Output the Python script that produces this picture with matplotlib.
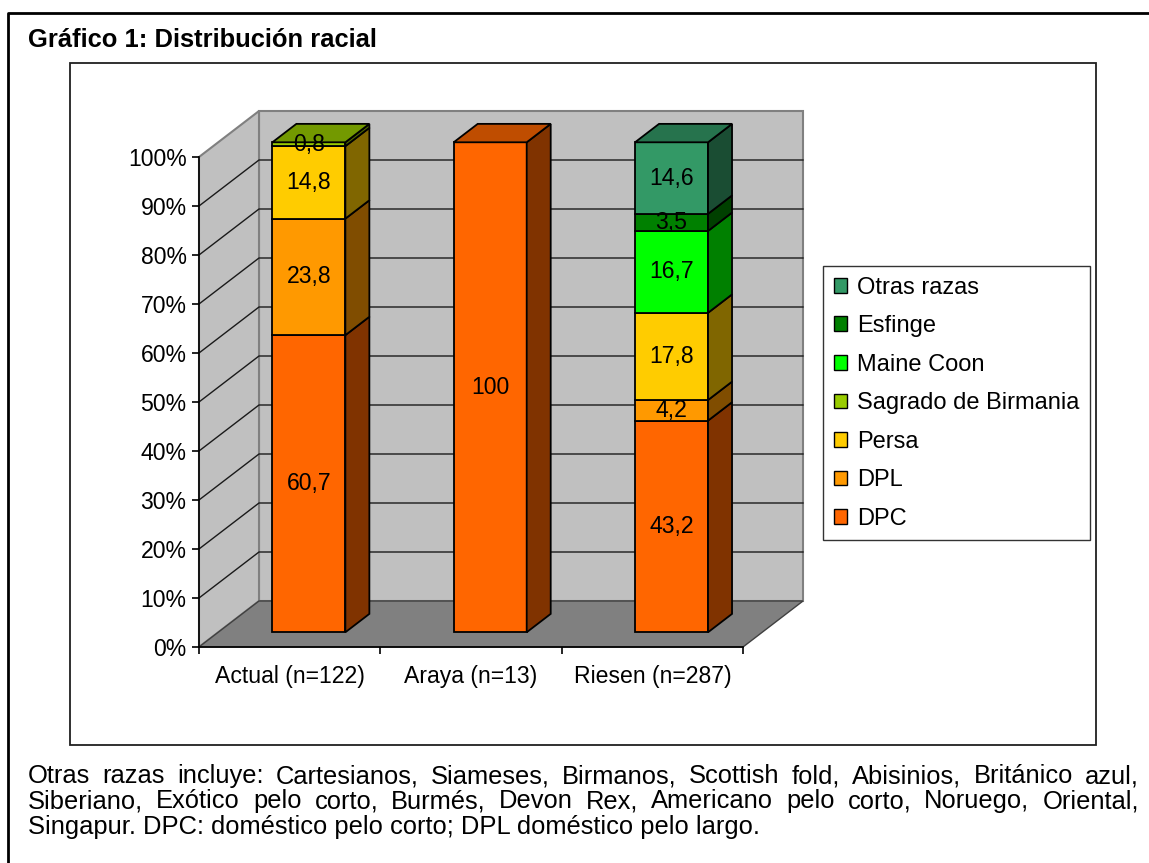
import matplotlib
matplotlib.use("Agg")
import matplotlib.pyplot as plt
from matplotlib.patches import Patch, Polygon, Rectangle
from matplotlib.lines import Line2D
from matplotlib.ticker import FixedLocator, FuncFormatter
import numpy as np

# ---------------- data ----------------
categories = ["Actual (n=122)", "Araya (n=13)", "Riesen (n=287)"]
series_names = ["DPC", "DPL", "Persa", "Sagrado de Birmania", "Maine Coon", "Esfinge", "Otras razas"]
dpc = [60.7, 100.0, 43.2]
dpl = [23.8, 0.0, 4.2]
persa = [14.8, 0.0, 17.8]
sagrado = [0.8, 0.0, 0.0]
maine_coon = [0.0, 0.0, 16.7]
esfinge = [0.0, 0.0, 3.5]
otras = [0.0, 0.0, 14.6]
series_values = [dpc, dpl, persa, sagrado, maine_coon, esfinge, otras]
series_colors = ["#FF6600", "#FF9900", "#FFCC00", "#99CC00", "#00FF00", "#008000", "#339966"]
ytick_values = list(range(0, 101, 10))

title = "Gráfico 1: Distribución racial"
footnote_lines = [
    "Otras razas incluye: Cartesianos, Siameses, Birmanos, Scottish fold, Abisinios, Británico azul,",
    "Siberiano, Exótico pelo corto, Burmés, Devon Rex, Americano pelo corto, Noruego, Oriental,",
    "Singapur. DPC: doméstico pelo corto; DPL doméstico pelo largo.",
]

# ---------------- style ----------------
FONT = "Liberation Sans"
FS = 16.6        # chart text
FS_DOC = 18.4    # title / footnote
FS_LEG = 17
plt.rcParams["font.family"] = [FONT, "DejaVu Sans"]

W, H = 1149, 863
fig = plt.figure(figsize=(W / 100, H / 100), dpi=100)
fig.patch.set_facecolor("white")

def fx(px):
    return px / W

def fy(py):
    return 1 - py / H

# outer border (top + left) and inner chart frame
fig.add_artist(Line2D([fx(8), fx(8), fx(W + 5)], [fy(H + 5), fy(13), fy(13)],
                      transform=fig.transFigure, color="black", lw=2))
fig.add_artist(Rectangle((fx(70), fy(745)), fx(1096) - fx(70), fy(63) - fy(745),
                         transform=fig.transFigure, facecolor="white",
                         edgecolor="#202020", lw=1.3, zorder=0))

fig.text(fx(28), fy(47), title, fontsize=FS_DOC, fontweight="bold", va="baseline", ha="left")

# ---------------- 3D-like chart on front plane axes ----------------
left_px, right_px, top_px, bot_px = 199, 743, 157, 647
ax = fig.add_axes([fx(left_px), fy(bot_px), fx(right_px) - fx(left_px), fy(top_px) - fy(bot_px)])
ax.set_xlim(-0.5, 2.5)
ax.set_ylim(0, 100)
ax.patch.set_visible(False)

x_per_px = 3.0 / (right_px - left_px)
y_per_px = 100.0 / (bot_px - top_px)
DX = 60 * x_per_px      # depth offset in category units
DY = 46 * y_per_px      # depth offset in percent units
fd, bd = 0.32, 0.72     # bar front / back depth fractions
bar_w = 73 * x_per_px

wall_c = "#C0C0C0"
floor_c = "#808080"
edge_c = "#808080"

# back wall
ax.add_patch(Polygon([(-0.5 + DX, DY), (2.5 + DX, DY), (2.5 + DX, 100 + DY), (-0.5 + DX, 100 + DY)],
                     closed=True, facecolor=wall_c, edgecolor=edge_c, lw=1.5, clip_on=False, zorder=0.5))
# left wall
ax.add_patch(Polygon([(-0.5, 0), (-0.5 + DX, DY), (-0.5 + DX, 100 + DY), (-0.5, 100)],
                     closed=True, facecolor=wall_c, edgecolor=edge_c, lw=1.5, clip_on=False, zorder=0.5))
# gridlines
for v in ytick_values[1:-1]:
    ax.plot([-0.5, -0.5 + DX, 2.5 + DX], [v, v + DY, v + DY], color="#1a1a1a", lw=1.0,
            clip_on=False, zorder=0.6)
# floor
ax.add_patch(Polygon([(-0.5, 0), (2.5, 0), (2.5 + DX, DY), (-0.5 + DX, DY)],
                     closed=True, facecolor=floor_c, edgecolor="#404040", lw=1.0, clip_on=False, zorder=0.7))

def shade(c, f):
    r, g, b = matplotlib.colors.to_rgb(c)
    return (r * f, g * f, b * f)

xs = np.arange(len(categories))
totals = np.sum(np.array(series_values), axis=0)
cum = np.zeros(len(categories))
top_color = [None] * len(categories)
for name, vals, col in zip(series_names, series_values, series_colors):
    vals = np.array(vals, dtype=float)
    h = vals / totals * 100.0
    mask = vals > 0
    ax.bar(xs[mask] + fd * DX, h[mask], bottom=cum[mask] + fd * DY, width=bar_w,
           color=col, edgecolor="black", lw=1.3, clip_on=False, zorder=2)
    for i in np.where(mask)[0]:
        xr = xs[i] + fd * DX + bar_w / 2
        b0, b1 = cum[i], cum[i] + h[i]
        d = (bd - fd)
        ax.add_patch(Polygon([(xr, b0 + fd * DY), (xr + d * DX, b0 + bd * DY),
                              (xr + d * DX, b1 + bd * DY), (xr, b1 + fd * DY)],
                             closed=True, facecolor=shade(col, 0.5), edgecolor="black",
                             lw=1.3, clip_on=False, zorder=2))
        lab = f"{vals[i]:g}".replace(".", ",")
        ax.text(xs[i] + fd * DX, b0 + fd * DY + h[i] / 2, lab, ha="center", va="center",
                fontsize=FS, color="black", zorder=4, clip_on=False)
        top_color[i] = col
    cum = cum + h

for i in range(len(categories)):
    xl = xs[i] + fd * DX - bar_w / 2
    xr = xs[i] + fd * DX + bar_w / 2
    T = cum[i]
    d = (bd - fd)
    ax.add_patch(Polygon([(xl, T + fd * DY), (xr, T + fd * DY), (xr + d * DX, T + bd * DY),
                          (xl + d * DX, T + bd * DY)], closed=True,
                         facecolor=shade(top_color[i], 0.75), edgecolor="black", lw=1.3,
                         clip_on=False, zorder=3))

# axes styling
for s in ["top", "right"]:
    ax.spines[s].set_visible(False)
for s in ["left", "bottom"]:
    ax.spines[s].set_color("black")
    ax.spines[s].set_linewidth(1.2)
    ax.spines[s].set_zorder(1)
ax.yaxis.set_major_locator(FixedLocator(ytick_values))
ax.yaxis.set_major_formatter(FuncFormatter(lambda v, p: f"{int(round(v))}%"))
ax.tick_params(axis="y", direction="out", length=5, width=1.2, pad=4, labelsize=FS, colors="black")
ax.set_xticks(xs)
ax.set_xticklabels(categories, fontsize=FS)
ax.set_xticks([-0.5, 0.5, 1.5, 2.5], minor=True)
ax.tick_params(axis="x", which="major", length=0, pad=13)
ax.tick_params(axis="x", which="minor", direction="out", length=5, width=1.2)

# legend
handles = [Patch(facecolor=c, edgecolor="black", lw=1.0, label=n)
           for n, c in zip(series_names, series_colors)][::-1]
leg = fig.legend(handles=handles, loc="upper left", bbox_to_anchor=(fx(823), fy(266)),
                 bbox_transform=fig.transFigure, fontsize=FS_LEG, frameon=True, fancybox=False,
                 edgecolor="black", borderpad=0.45, handlelength=0.58, handleheight=0.58,
                 handletextpad=0.42, labelspacing=0.7, borderaxespad=0)
leg.get_frame().set_linewidth(1.0)

# footnote with justification
renderer = fig.canvas.get_renderer()
fl, fr = 28, 1139
baselines = [783, 808, 834]
for li, (line, yb) in enumerate(zip(footnote_lines, baselines)):
    if li == len(footnote_lines) - 1:
        fig.text(fx(fl), fy(yb), line, fontsize=FS_DOC, va="baseline", ha="left")
        continue
    words = line.split(" ")
    texts = [fig.text(0, fy(yb), w, fontsize=FS_DOC, va="baseline", ha="left") for w in words]
    widths = [t.get_window_extent(renderer).width for t in texts]
    gap = ((fr - fl) - sum(widths)) / (len(words) - 1)
    x = fl
    for t, wd in zip(texts, widths):
        t.set_x(fx(x))
        x += wd + gap

fig.savefig("out.png", dpi=100)
